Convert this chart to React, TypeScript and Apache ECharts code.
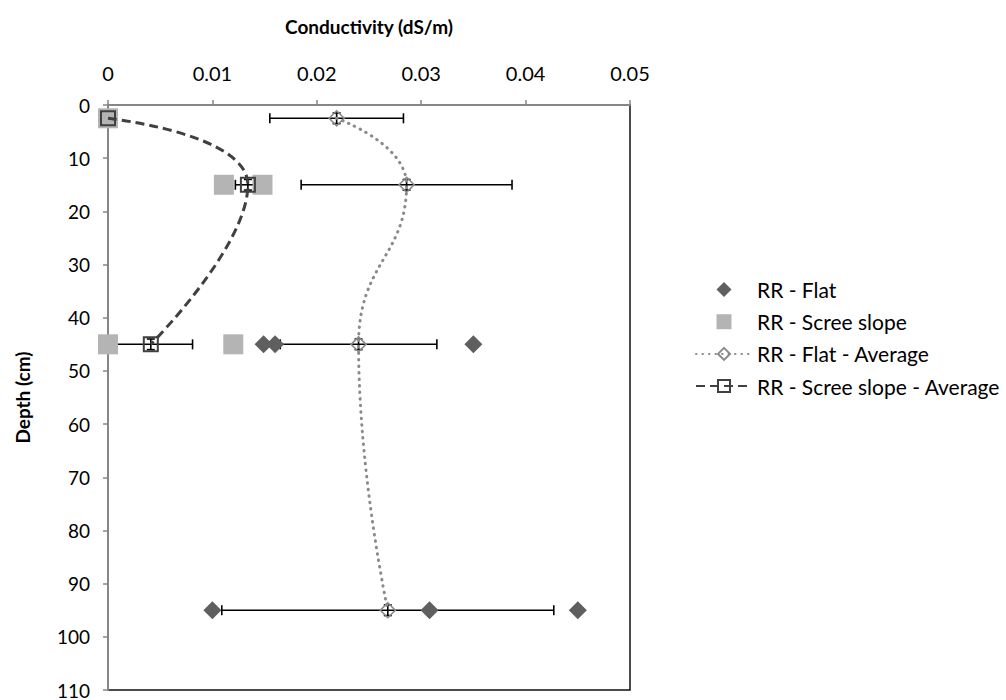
import React, { useEffect, useRef } from "react";
import * as echarts from "echarts";

// Individual samples: conductivity (dS/m) and the depth (cm) they were taken at
const flatDepth = [45, 45, 45, 95, 95, 95];
const flatCond = [0.0149, 0.016, 0.035, 0.01, 0.0308, 0.045];

const screeDepth = [2.5, 15, 15, 45, 45];
const screeCond = [0, 0.0111, 0.0148, 0, 0.012];

// Averages per depth, with horizontal (conductivity) and vertical (depth) error
const flatAvgDepth = [2.5, 15, 45, 95];
const flatAvgCond = [0.0219, 0.0286, 0.024, 0.0268];
const flatAvgErr = [0.0064, 0.0101, 0.0075, 0.0159];
const flatAvgDepthErr = [1, 1, 1, 1];

const screeAvgDepth = [2.5, 15, 45];
const screeAvgCond = [0, 0.0134, 0.0041];
const screeAvgErr = [0.0002, 0.0012, 0.004];
const screeAvgDepthErr = [1, 1, 1];

const xTicks = { min: 0, max: 0.05, interval: 0.01 };
const yTicks = { min: 0, max: 110, interval: 10 };

const seriesNames = [
  "RR - Flat",
  "RR - Scree slope",
  "RR - Flat - Average",
  "RR - Scree slope - Average",
];

const FONT = "Lato, 'Open Sans', sans-serif";

// Path icons so the legend keeps the marker square instead of stretching it
const DIAMOND_ICON = "path://M5,0 L10,5 L5,10 L0,5 Z";
const SQUARE_ICON = "path://M0,0 L10,0 L10,10 L0,10 Z";

function pairs(xs: number[], ys: number[]) {
  return xs.map((x, i) => [x, ys[i]]);
}

function errorRows(xs: number[], ys: number[], ex: number[], ey: number[]) {
  return xs.map((x, i) => [x, ys[i], ex[i], ey[i]]);
}

// Horizontal and vertical error bars with caps
function renderErrorBar(_params: any, api: any) {
  const x = api.value(0);
  const y = api.value(1);
  const ex = api.value(2);
  const ey = api.value(3);
  const l = api.coord([x - ex, y]);
  const r = api.coord([x + ex, y]);
  const t = api.coord([x, y - ey]);
  const b = api.coord([x, y + ey]);
  const style = { stroke: "#000", lineWidth: 1.6 };
  const cap = 5;
  const vcap = 4;
  return {
    type: "group",
    children: [
      { type: "line", shape: { x1: l[0], y1: l[1], x2: r[0], y2: r[1] }, style },
      { type: "line", shape: { x1: l[0], y1: l[1] - cap, x2: l[0], y2: l[1] + cap }, style },
      { type: "line", shape: { x1: r[0], y1: r[1] - cap, x2: r[0], y2: r[1] + cap }, style },
      { type: "line", shape: { x1: t[0], y1: t[1], x2: b[0], y2: b[1] }, style },
      { type: "line", shape: { x1: t[0] - vcap, y1: t[1], x2: t[0] + vcap, y2: t[1] }, style },
      { type: "line", shape: { x1: b[0] - vcap, y1: b[1], x2: b[0] + vcap, y2: b[1] }, style },
    ],
  };
}

export default function App() {
  const ref = useRef<HTMLDivElement>(null);

  useEffect(() => {
    if (!ref.current) return;
    const chart = echarts.init(ref.current, undefined, { renderer: "svg" });
    const axisGrey = "#868686";

    chart.setOption({
      animation: false,
      backgroundColor: "#fff",
      textStyle: { fontFamily: FONT },
      grid: {
        left: 108,
        top: 105,
        width: 522,
        height: 585,
        show: true,
        borderColor: "#111",
        borderWidth: 1.5,
        backgroundColor: "transparent",
      },
      xAxis: {
        type: "value",
        position: "top",
        ...xTicks,
        name: "Conductivity (dS/m)",
        nameLocation: "middle",
        nameGap: 69,
        nameTextStyle: { fontFamily: FONT, fontWeight: "bold", fontSize: 19, color: "#000" },
        axisLine: { show: true, lineStyle: { color: axisGrey, width: 2 } },
        axisTick: { show: true, inside: false, length: 5, lineStyle: { color: axisGrey, width: 1.5 } },
        axisLabel: { fontFamily: FONT, fontSize: 20, color: "#000", margin: 22 },
        splitLine: { show: false },
      },
      yAxis: {
        type: "value",
        inverse: true,
        ...yTicks,
        name: "Depth (cm)",
        nameLocation: "middle",
        nameGap: 76,
        nameRotate: 90,
        nameTextStyle: { fontFamily: FONT, fontWeight: "bold", fontSize: 19, color: "#000" },
        axisLine: { show: true, lineStyle: { color: axisGrey, width: 2 } },
        axisTick: { show: true, inside: false, length: 5, lineStyle: { color: axisGrey, width: 1.5 } },
        axisLabel: { fontFamily: FONT, fontSize: 19, lineHeight: 18, color: "#000", margin: 18 },
        splitLine: { show: false },
      },
      legend: {
        orient: "vertical",
        left: 690,
        top: 274,
        itemWidth: 56,
        itemHeight: 15,
        itemGap: 11.2,
        symbolKeepAspect: true,
        data: [
          { name: seriesNames[0], icon: DIAMOND_ICON },
          { name: seriesNames[1], icon: SQUARE_ICON },
          { name: seriesNames[2] },
          { name: seriesNames[3] },
        ],
        textStyle: { fontFamily: FONT, fontSize: 21, color: "#000", lineHeight: 20 },
      },
      series: [
        {
          type: "custom",
          name: "flat-avg-error",
          renderItem: renderErrorBar,
          encode: { x: 0, y: 1 },
          data: errorRows(flatAvgCond, flatAvgDepth, flatAvgErr, flatAvgDepthErr),
          z: 1,
        },
        {
          type: "custom",
          name: "scree-avg-error",
          renderItem: renderErrorBar,
          encode: { x: 0, y: 1 },
          data: errorRows(screeAvgCond, screeAvgDepth, screeAvgErr, screeAvgDepthErr),
          z: 1,
        },
        {
          type: "scatter",
          name: seriesNames[0],
          symbol: "diamond",
          symbolSize: 18,
          itemStyle: { color: "#5f5f5f", opacity: 1 },
          data: pairs(flatCond, flatDepth),
          z: 2,
        },
        {
          type: "scatter",
          name: seriesNames[1],
          symbol: "rect",
          symbolSize: 20,
          itemStyle: { color: "#b4b4b4", opacity: 1 },
          data: pairs(screeCond, screeDepth),
          z: 2,
        },
        {
          type: "line",
          name: seriesNames[2],
          smooth: 0.5,
          symbol: "diamond",
          symbolSize: 15,
          showAllSymbol: true,
          itemStyle: { color: "rgba(255,255,255,0)", borderColor: "#8a8a8a", borderWidth: 1.6 },
          lineStyle: { color: "#8a8a8a", width: 3, type: [0.5, 6], cap: "round" },
          data: pairs(flatAvgCond, flatAvgDepth),
          z: 3,
        },
        {
          type: "line",
          name: seriesNames[3],
          smooth: 0.5,
          symbol: "rect",
          symbolSize: 14,
          showAllSymbol: true,
          itemStyle: { color: "rgba(255,255,255,0)", borderColor: "#404040", borderWidth: 2 },
          lineStyle: { color: "#404040", width: 3, type: [9, 5] },
          data: pairs(screeAvgCond, screeAvgDepth),
          z: 3,
        },
      ],
    });

    return () => chart.dispose();
  }, []);

  return (
    <div
      ref={ref}
      style={{ position: "fixed", left: 0, top: 0, width: 1006, height: 700, background: "#fff" }}
    />
  );
}
